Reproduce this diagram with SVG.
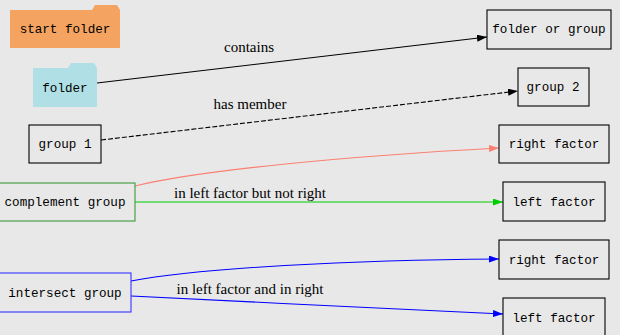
<svg xmlns="http://www.w3.org/2000/svg" width="620" height="335" viewBox="0 0 620 335">
<style>
.bg{fill:#e8e8e8}
.box{fill:none;stroke:#000;stroke-width:1.1}
.nt{font-family:"Liberation Mono",monospace;font-size:12.6px;text-anchor:middle;fill:#000}
.et{font-family:"Liberation Serif",serif;font-size:15px;text-anchor:middle;fill:#000}
.e{fill:none;stroke-width:1.1}
</style>
<defs>
<marker id="ak" markerUnits="userSpaceOnUse" markerWidth="10" markerHeight="7" refX="10" refY="3.5" orient="auto"><path d="M0,0 L10,3.5 L0,7 z" fill="#000"/></marker>
<marker id="as" markerUnits="userSpaceOnUse" markerWidth="10" markerHeight="7" refX="10" refY="3.5" orient="auto"><path d="M0,0 L10,3.5 L0,7 z" fill="#fa8072"/></marker>
<marker id="ag" markerUnits="userSpaceOnUse" markerWidth="10" markerHeight="7" refX="10" refY="3.5" orient="auto"><path d="M0,0 L10,3.5 L0,7 z" fill="#00cd00"/></marker>
<marker id="ab" markerUnits="userSpaceOnUse" markerWidth="10" markerHeight="7" refX="10" refY="3.5" orient="auto"><path d="M0,0 L10,3.5 L0,7 z" fill="#0000ff"/></marker>
</defs>
<rect class="bg" x="0" y="0" width="620" height="335"/>
<g id="connectors">
<path class="e" stroke="#000" d="M97,83 L487,37" marker-end="url(#ak)"/>
<text class="et" x="249" y="52">contains</text>
<path class="e" stroke="#000" stroke-dasharray="5,2" d="M101,140 L518,91" marker-end="url(#ak)"/>
<text class="et" x="250" y="109">has member</text>
<path class="e" stroke="#fa8072" d="M135,186 C200,170 350,156 499,148" marker-end="url(#as)"/>
<path class="e" stroke="#00cd00" d="M135,202 L503,202" marker-end="url(#ag)"/>
<text class="et" x="250" y="198">in left factor but not right</text>
<path class="e" stroke="#0000ff" d="M131,281 C200,268 350,260 499,259" marker-end="url(#ab)"/>
<path class="e" stroke="#0000ff" d="M131,296 C250,302 400,309 503,314" marker-end="url(#ab)"/>
<text class="et" x="250" y="294">in left factor and in right</text>
</g>
<g id="start_folder">
<path d="M10,10 L92,10 L95,5 L117,5 L120,10 L120,48 L10,48 z" fill="#f4a460"/>
<text class="nt" x="65" y="33">start folder</text>
</g>
<g id="folder">
<path d="M33,68 L68,68 L71,63 L94,63 L97,68 L97,107 L33,107 z" fill="#b0e0e6"/>
<text class="nt" x="65" y="92">folder</text>
</g>
<g id="folder_or_group">
<rect class="box" x="487" y="10" width="124" height="39"/>
<text class="nt" x="549" y="33">folder or group</text>
</g>
<g id="group2">
<rect class="box" x="518" y="68" width="71" height="38"/>
<text class="nt" x="553" y="91">group 2</text>
</g>
<g id="group1">
<rect class="box" x="29" y="125" width="72" height="38"/>
<text class="nt" x="65" y="148">group 1</text>
</g>
<g id="complement_group">
<rect class="box" x="-3" y="183" width="138" height="38" style="stroke:#3a9a3a"/>
<text class="nt" x="65" y="206">complement group</text>
</g>
<g id="right_factor_1">
<rect class="box" x="499" y="125" width="110" height="38"/>
<text class="nt" x="554" y="148">right factor</text>
</g>
<g id="left_factor_1">
<rect class="box" x="503" y="182" width="102" height="39"/>
<text class="nt" x="554" y="206">left factor</text>
</g>
<g id="intersect_group">
<rect class="box" x="-3" y="273" width="134" height="39" style="stroke:#3333ff"/>
<text class="nt" x="65" y="297">intersect group</text>
</g>
<g id="right_factor_2">
<rect class="box" x="499" y="240" width="110" height="39"/>
<text class="nt" x="554" y="264">right factor</text>
</g>
<g id="left_factor_2">
<rect class="box" x="503" y="298" width="102" height="39"/>
<text class="nt" x="554" y="322">left factor</text>
</g>
</svg>
